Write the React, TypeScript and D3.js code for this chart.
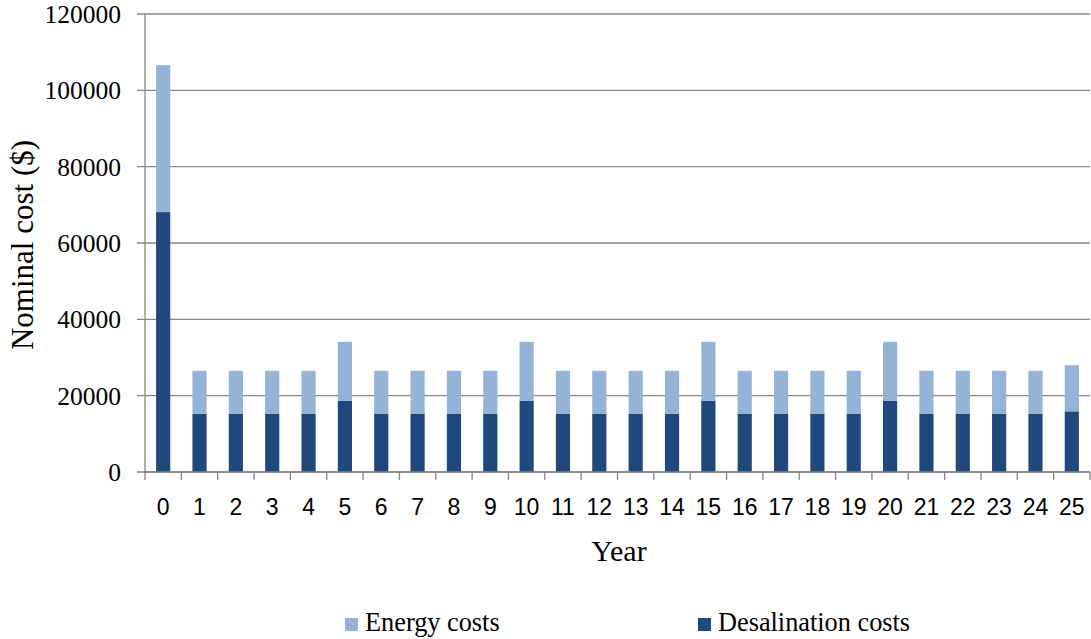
import React from "react";
import * as d3 from "d3";

const years = d3.range(0, 26).map(String);
const desalinationCosts = [
  68100, 15300, 15300, 15300, 15300, 18700, 15300, 15300, 15300, 15300,
  18700, 15300, 15300, 15300, 15300, 18700, 15300, 15300, 15300, 15300,
  18700, 15300, 15300, 15300, 15300, 15900,
];
const energyCosts = [
  38500, 11200, 11200, 11200, 11200, 15400, 11200, 11200, 11200, 11200,
  15400, 11200, 11200, 11200, 11200, 15400, 11200, 11200, 11200, 11200,
  15400, 11200, 11200, 11200, 11200, 12100,
];
const yTicks = [0, 20000, 40000, 60000, 80000, 100000, 120000];

const seriesNames = ["Desalination costs", "Energy costs"];
const seriesColors = { "Desalination costs": "#1F497D", "Energy costs": "#95B3D7" };

const W = 1091;
const H = 639;
const left = 145;
const right = 1090;
const top = 14;
const bottom = 472;

export default function App() {
  const band = d3.scaleBand<string>().domain(years).range([left, right]);
  const y = d3.scaleLinear().domain([0, 120000]).range([bottom, top]);

  const rows = years.map((yr, i) => ({
    year: yr,
    "Desalination costs": desalinationCosts[i],
    "Energy costs": energyCosts[i],
  }));
  const stacked = d3.stack<any>().keys(seriesNames)(rows);

  const serif = "'Liberation Serif', 'Times New Roman', serif";
  const sans = "'Liberation Sans', Arial, sans-serif";
  const grid = "#868686";

  const barW = band.bandwidth() * 0.39;

  return (
    <svg
      width={W}
      height={H}
      style={{ position: "absolute", left: 0, top: 0, background: "#fff" }}
    >
      {/* gridlines and y ticks */}
      {yTicks.map((t) => (
        <g key={t}>
          <line x1={left - 8} x2={right} y1={y(t)} y2={y(t)} stroke={grid} strokeWidth={1.3} />
          <text
            x={121}
            y={y(t)}
            dy="0.35em"
            textAnchor="end"
            fontFamily={serif}
            fontSize={25.5}
            fill="#000"
          >
            {t}
          </text>
        </g>
      ))}
      {/* bars */}
      {stacked.map((s) => (
        <g key={s.key} fill={(seriesColors as any)[s.key]}>
          {s.map((d, i) => {
            const cx = (band(years[i]) as number) + band.bandwidth() / 2;
            return (
              <rect
                key={i}
                x={cx - barW / 2}
                width={barW}
                y={y(d[1])}
                height={y(d[0]) - y(d[1])}
              />
            );
          })}
        </g>
      ))}
      {/* y axis */}
      <line x1={left} x2={left} y1={top} y2={bottom + 8} stroke={grid} strokeWidth={1.3} />
      {/* x axis */}
      <line x1={left} x2={right} y1={bottom} y2={bottom} stroke={grid} strokeWidth={1.3} />
      {years.map((yr) => (
        <line
          key={"t" + yr}
          x1={(band(yr) as number) + band.bandwidth()}
          x2={(band(yr) as number) + band.bandwidth()}
          y1={bottom}
          y2={bottom + 8}
          stroke={grid}
          strokeWidth={1.3}
        />
      ))}
      {years.map((yr) => (
        <text
          key={"l" + yr}
          x={(band(yr) as number) + band.bandwidth() / 2}
          y={515}
          textAnchor="middle"
          fontFamily={sans}
          fontSize={23}
          fill="#000"
        >
          {yr}
        </text>
      ))}
      {/* axis titles */}
      <text x={619} y={561} textAnchor="middle" fontFamily={serif} fontSize={30} fill="#000">
        Year
      </text>
      <text
        transform={`translate(33, 245) rotate(-90)`}
        textAnchor="middle"
        fontFamily={serif}
        fontSize={31}
        fill="#000"
      >
        Nominal cost ($)
      </text>
      {/* legend */}
      <rect x={345} y={618} width={13} height={13} fill={seriesColors["Energy costs"]} />
      <text x={365} y={631} fontFamily={serif} fontSize={26.3} fill="#000">
        Energy costs
      </text>
      <rect x={698} y={618} width={13} height={13} fill={seriesColors["Desalination costs"]} />
      <text x={718} y={631} fontFamily={serif} fontSize={26.3} fill="#000">
        Desalination costs
      </text>
    </svg>
  );
}
